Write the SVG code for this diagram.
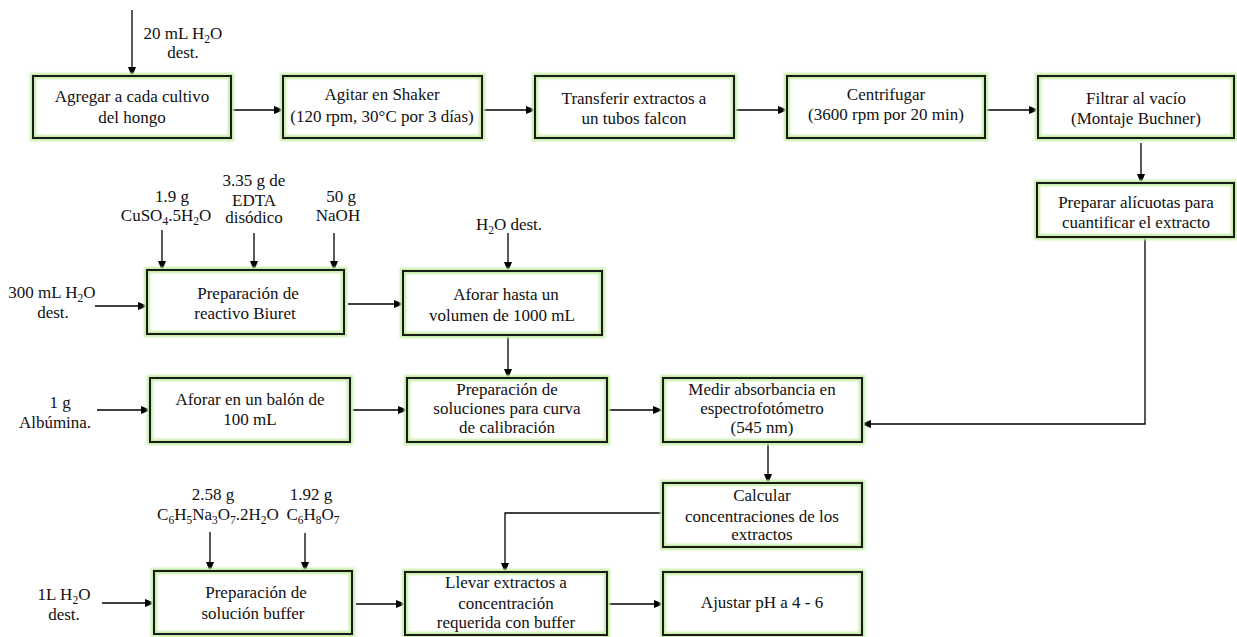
<svg xmlns="http://www.w3.org/2000/svg" width="1237" height="637" viewBox="0 0 1237 637">
<defs>
<marker id="ah" markerWidth="10" markerHeight="8" refX="9" refY="4" orient="auto" markerUnits="userSpaceOnUse">
<path d="M0,0 L10,4 L0,8 Z" fill="#000"/>
</marker>
<filter id="glow" x="-10%" y="-20%" width="120%" height="140%">
<feGaussianBlur stdDeviation="1.3"/>
</filter>
<style>
text{font-family:"Liberation Serif","Times New Roman",serif;font-size:17px;fill:#111;text-anchor:middle}
.sub{font-size:11.5px}
.bg{fill:#fff}
.gl{fill:none;stroke:#c4eca4;stroke-width:6;filter:url(#glow)}
.bx{fill:none;stroke:#1a1a1a;stroke-width:2}
.c{stroke:#000;stroke-width:1.3;fill:none;marker-end:url(#ah)}
</style>
</defs>
<rect width="1237" height="637" fill="#fff"/>

<g id="connectors">
<line class="c" x1="132" y1="10" x2="132" y2="76"/>
<line class="c" x1="231" y1="110" x2="283" y2="110"/>
<line class="c" x1="482" y1="110" x2="535" y2="110"/>
<line class="c" x1="734" y1="110" x2="787" y2="110"/>
<line class="c" x1="985" y1="110" x2="1038" y2="110"/>
<line class="c" x1="1141" y1="143" x2="1141" y2="183"/>
<line class="c" x1="162" y1="230" x2="162" y2="270"/>
<line class="c" x1="254" y1="233" x2="254" y2="270"/>
<line class="c" x1="334" y1="233" x2="334" y2="270"/>
<line class="c" x1="95" y1="306" x2="147" y2="306"/>
<line class="c" x1="348" y1="304" x2="403" y2="304"/>
<line class="c" x1="508" y1="233" x2="508" y2="271"/>
<line class="c" x1="508" y1="335" x2="508" y2="378"/>
<line class="c" x1="97" y1="410" x2="150" y2="410"/>
<line class="c" x1="353" y1="410" x2="407" y2="410"/>
<line class="c" x1="608" y1="410" x2="662" y2="410"/>
<polyline class="c" points="1145,237 1145,424 862,424"/>
<line class="c" x1="768" y1="443" x2="768" y2="483"/>
<polyline class="c" points="663,513 505,513 505,572"/>
<line class="c" x1="210" y1="532" x2="210" y2="571"/>
<line class="c" x1="305" y1="533" x2="305" y2="571"/>
<line class="c" x1="102" y1="603" x2="154" y2="603"/>
<line class="c" x1="356" y1="604" x2="405" y2="604"/>
<line class="c" x1="608" y1="604" x2="663" y2="604"/>
</g>

<g id="labels" font-family="Liberation Serif, serif">
<text x="183" y="39">20 mL H<tspan class="sub" dy="4">2</tspan><tspan dy="-4">O</tspan></text>
<text x="183" y="58">dest.</text>
<text x="172" y="202">1.9 g</text>
<text x="166" y="221">CuSO<tspan class="sub" dy="4">4</tspan><tspan dy="-4">.5H</tspan><tspan class="sub" dy="4">2</tspan><tspan dy="-4">O</tspan></text>
<text x="254" y="186">3.35 g de</text>
<text x="254" y="206">EDTA</text>
<text x="254" y="223">disódico</text>
<text x="341" y="202">50 g</text>
<text x="338" y="221">NaOH</text>
<text x="52" y="298">300 mL H<tspan class="sub" dy="4">2</tspan><tspan dy="-4">O</tspan></text>
<text x="53" y="318">dest.</text>
<text x="509" y="230">H<tspan class="sub" dy="4">2</tspan><tspan dy="-4">O  dest.</tspan></text>
<text x="60" y="408">1 g</text>
<text x="55" y="428">Albúmina.</text>
<text x="213" y="500">2.58 g</text>
<text x="218" y="520">C<tspan class="sub" dy="4">6</tspan><tspan dy="-4">H</tspan><tspan class="sub" dy="4">5</tspan><tspan dy="-4">Na</tspan><tspan class="sub" dy="4">3</tspan><tspan dy="-4">O</tspan><tspan class="sub" dy="4">7</tspan><tspan dy="-4">.2H</tspan><tspan class="sub" dy="4">2</tspan><tspan dy="-4">O</tspan></text>
<text x="311" y="500">1.92 g</text>
<text x="313" y="520">C<tspan class="sub" dy="4">6</tspan><tspan dy="-4">H</tspan><tspan class="sub" dy="4">8</tspan><tspan dy="-4">O</tspan><tspan class="sub" dy="4">7</tspan></text>
<text x="64" y="600">1L H<tspan class="sub" dy="4">2</tspan><tspan dy="-4">O</tspan></text>
<text x="64" y="620">dest.</text>
</g>

<g id="n1">
<rect class="bg" x="33" y="76" width="198" height="62"/><rect class="gl" x="33" y="76" width="198" height="62"/><rect class="bx" x="33" y="76" width="198" height="62"/>
<text x="132" y="102">Agregar a cada cultivo</text><text x="132" y="123">del hongo</text>
</g>
<g id="n2">
<rect class="bg" x="283" y="76" width="199" height="62"/><rect class="gl" x="283" y="76" width="199" height="62"/><rect class="bx" x="283" y="76" width="199" height="62"/>
<text x="382" y="100">Agitar en Shaker</text><text x="382" y="122">(120 rpm, 30°C por 3 días)</text>
</g>
<g id="n3">
<rect class="bg" x="535" y="76" width="199" height="62"/><rect class="gl" x="535" y="76" width="199" height="62"/><rect class="bx" x="535" y="76" width="199" height="62"/>
<text x="634" y="104">Transferir extractos a</text><text x="634" y="124">un tubos falcon</text>
</g>
<g id="n4">
<rect class="bg" x="787" y="76" width="198" height="62"/><rect class="gl" x="787" y="76" width="198" height="62"/><rect class="bx" x="787" y="76" width="198" height="62"/>
<text x="886" y="100">Centrifugar</text><text x="886" y="120">(3600 rpm por 20 min)</text>
</g>
<g id="n5">
<rect class="bg" x="1038" y="76" width="196" height="62"/><rect class="gl" x="1038" y="76" width="196" height="62"/><rect class="bx" x="1038" y="76" width="196" height="62"/>
<text x="1136" y="104">Filtrar al vacío</text><text x="1136" y="124">(Montaje Buchner)</text>
</g>
<g id="n6">
<rect class="bg" x="1037" y="183" width="197" height="54"/><rect class="gl" x="1037" y="183" width="197" height="54"/><rect class="bx" x="1037" y="183" width="197" height="54"/>
<text x="1136" y="208">Preparar alícuotas para</text><text x="1136" y="228">cuantificar el extracto</text>
</g>
<g id="n7">
<rect class="bg" x="147" y="270" width="197" height="64"/><rect class="gl" x="147" y="270" width="197" height="64"/><rect class="bx" x="147" y="270" width="197" height="64"/>
<text x="248" y="299">Preparación de</text><text x="245" y="319">reactivo Biuret</text>
</g>
<g id="n8">
<rect class="bg" x="403" y="271" width="199" height="64"/><rect class="gl" x="403" y="271" width="199" height="64"/><rect class="bx" x="403" y="271" width="199" height="64"/>
<text x="506" y="300">Aforar hasta un</text><text x="502" y="321">volumen de 1000 mL</text>
</g>
<g id="n9">
<rect class="bg" x="150" y="378" width="200" height="64"/><rect class="gl" x="150" y="378" width="200" height="64"/><rect class="bx" x="150" y="378" width="200" height="64"/>
<text x="250" y="405">Aforar en un balón de</text><text x="250" y="425">100 mL</text>
</g>
<g id="n10">
<rect class="bg" x="407" y="378" width="200" height="64"/><rect class="gl" x="407" y="378" width="200" height="64"/><rect class="bx" x="407" y="378" width="200" height="64"/>
<text x="507" y="395">Preparación de</text><text x="507" y="414">soluciones para curva</text><text x="507" y="433">de calibración</text>
</g>
<g id="n11">
<rect class="bg" x="663" y="378" width="199" height="64"/><rect class="gl" x="663" y="378" width="199" height="64"/><rect class="bx" x="663" y="378" width="199" height="64"/>
<text x="762" y="395">Medir absorbancia en</text><text x="762" y="414">espectrofotómetro</text><text x="762" y="433">(545 nm)</text>
</g>
<g id="n12">
<rect class="bg" x="663" y="483" width="199" height="64"/><rect class="gl" x="663" y="483" width="199" height="64"/><rect class="bx" x="663" y="483" width="199" height="64"/>
<text x="762" y="501">Calcular</text><text x="762" y="522">concentraciones de los</text><text x="762" y="540">extractos</text>
</g>
<g id="n13">
<rect class="bg" x="154" y="571" width="198" height="63"/><rect class="gl" x="154" y="571" width="198" height="63"/><rect class="bx" x="154" y="571" width="198" height="63"/>
<text x="256" y="598">Preparación de</text><text x="253" y="619">solución buffer</text>
</g>
<g id="n14">
<rect class="bg" x="405" y="572" width="202" height="63"/><rect class="gl" x="405" y="572" width="202" height="63"/><rect class="bx" x="405" y="572" width="202" height="63"/>
<text x="506" y="588">Llevar extractos a</text><text x="506" y="609">concentración</text><text x="506" y="628">requerida con buffer</text>
</g>
<g id="n15">
<rect class="bg" x="663" y="572" width="199" height="63"/><rect class="gl" x="663" y="572" width="199" height="63"/><rect class="bx" x="663" y="572" width="199" height="63"/>
<text x="762" y="608">Ajustar pH a 4 - 6</text>
</g>
</svg>
